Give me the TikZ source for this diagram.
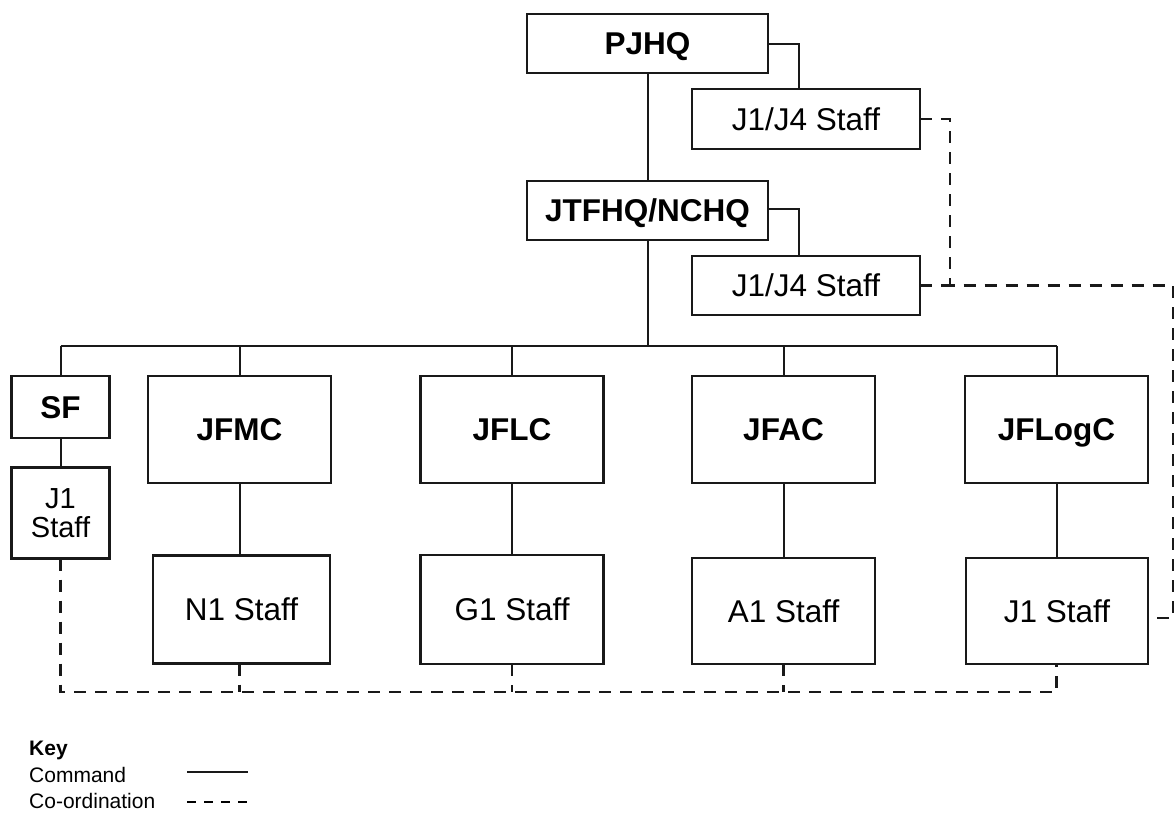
\documentclass[tikz,border=0pt]{standalone}
\usepackage{fontspec}
\setmainfont{Liberation Sans}
\begin{document}
\begin{tikzpicture}[x=1pt,y=-1pt,
  box/.style={draw=black!90, line width=2.2pt, inner sep=0pt, outer sep=0pt, align=center,
    text height=22.5pt, text depth=0pt, font=\fontsize{31.5}{34}\selectfont},
  hq/.style={box, font=\fontsize{31.5}{34}\selectfont\bfseries},
  cmd/.style={line width=2pt, draw=black!90},
  coord/.style={line width=2.2pt, draw=black!90, dash pattern=on 12pt off 9pt},
  keytxt/.style={anchor=base west, inner sep=0pt, font=\fontsize{21}{24}\selectfont}
]
\useasboundingbox (0,0) rectangle (1176,812);
% top column
\node[hq, minimum width=241pt, minimum height=59pt] (pjhq) at (647.5,43.5) {PJHQ};
\node[box, minimum width=228pt, minimum height=60pt] (s1) at (806,119) {J1/J4 Staff};
\node[hq, minimum width=241pt, minimum height=59pt] (jtf) at (647.5,210.5) {JTFHQ/NCHQ};
\node[box, minimum width=228pt, minimum height=59pt] (s2) at (806,285.5) {J1/J4 Staff};
% components
\node[hq, minimum width=98pt, minimum height=62pt] (sf) at (60.5,407) {SF};
\node[box, text height=, text depth=, minimum width=98pt, minimum height=91pt, font=\fontsize{29}{29}\selectfont] (sfs) at (60.5,513) {J1\\Staff};
\node[hq, minimum width=183pt, minimum height=107pt] (jfmc) at (239.5,429.5) {JFMC};
\node[box, minimum width=177pt, minimum height=108pt] (n1) at (241.5,609.5) {N1 Staff};
\node[hq, minimum width=183pt, minimum height=107pt] (jflc) at (512,429.5) {JFLC};
\node[box, minimum width=183pt, minimum height=109pt] (g1) at (512,609.5) {G1 Staff};
\node[hq, minimum width=183pt, minimum height=107pt] (jfac) at (783.5,429.5) {JFAC};
\node[box, minimum width=183pt, minimum height=106pt] (a1) at (783.5,611) {A1 Staff};
\node[hq, minimum width=183pt, minimum height=107pt] (jflog) at (1056.5,429.5) {JFLogC};
\node[box, minimum width=182pt, minimum height=106pt] (j1) at (1057,611) {J1 Staff};
% coordinates
\coordinate (busL) at (60.5,346);
\coordinate (busR) at (1056.5,346);
\coordinate (c1) at (799,43.5);
\coordinate (c2) at (799,209);
\coordinate (d1) at (950,119);
\coordinate (d2) at (950,285.5);
\coordinate (d3) at (1173,285.5);
\coordinate (d4) at (1173,618);
\coordinate (bl) at (60.5,692);
\coordinate (br) at (1056.5,692);
% command lines
\draw[cmd] (pjhq.south) -- (jtf.north);
\draw[cmd] (jtf.south) -- (jtf.south |- busL);
\draw[cmd] (busL) -- (busR);
\draw[cmd] (busL) -- (sf.north);
\draw[cmd] (jfmc.north |- busL) -- (jfmc.north);
\draw[cmd] (jflc.north |- busL) -- (jflc.north);
\draw[cmd] (jfac.north |- busL) -- (jfac.north);
\draw[cmd] (busR) -- (jflog.north);
\draw[cmd] (pjhq.east |- c1) -- (c1) -- (c1 |- s1.north);
\draw[cmd] (jtf.east |- c2) -- (c2) -- (c2 |- s2.north);
\draw[cmd] (sf.south) -- (sfs.north);
\draw[cmd] (jfmc.south) -- (jfmc.south |- n1.north);
\draw[cmd] (jflc.south) -- (g1.north);
\draw[cmd] (jfac.south) -- (a1.north);
\draw[cmd] (jflog.south) -- (jflog.south |- j1.north);
% coordination lines
\draw[coord] (s1.east |- d1) -- (d1) -- (d2) -- (d3) -- (d4) -- (j1.east |- d4);
\draw[coord] (s2.east) -- (d2);
\draw[coord] (sfs.south) -- (bl) -- (br) -- (j1.south -| br);
\draw[coord] (n1.south -| jfmc.south) -- (jfmc.south |- bl);
\draw[coord] (g1.south) -- (g1.south |- bl);
\draw[coord] (a1.south) -- (a1.south |- bl);
% key
\node[keytxt, font=\fontsize{21}{24}\selectfont\bfseries] (key) at (29,755) {Key};
\node[keytxt] (kc) at (29,782) {Command};
\node[keytxt] (kco) at (29,808) {Co-ordination};
\coordinate (k1a) at (187,772);
\coordinate (k1b) at (248,772);
\coordinate (k2a) at (187,802);
\coordinate (k2b) at (248,802);
\draw[cmd] (k1a) -- (k1b);
\draw[line width=2pt, dash pattern=on 9pt off 8pt] (k2a) -- (k2b);
\end{tikzpicture}
\end{document}
